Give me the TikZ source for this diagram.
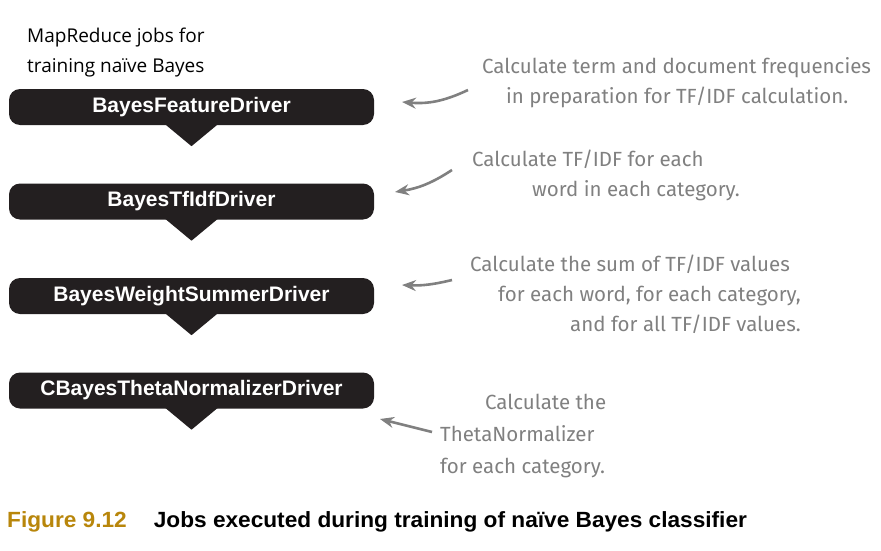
\documentclass[tikz,border=0pt]{standalone}
\usepackage{fontspec}
\usepackage{tikz}
\usetikzlibrary{arrows.meta}
\setmainfont{Liberation Sans}
\newfontfamily\handfont{Fira Sans}
\newfontfamily\headfont{Open Sans}
\newfontfamily\capfont{Liberation Sans}[FakeStretch=1.03]
\definecolor{jobblack}{RGB}{35,31,32}
\definecolor{notegray}{RGB}{128,128,128}
\definecolor{figgold}{RGB}{184,134,11}
\tikzset{
  jobbox/.style={fill=jobblack, rounded corners=11pt, minimum width=365pt,
    minimum height=36pt, inner sep=0pt, text=white,
    font=\fontsize{21}{24}\selectfont\bfseries},
  notetext/.style={text=notegray, inner sep=0pt, align=left, anchor=west,
    font=\handfont\fontsize{20.5}{30}\selectfont},
  notearrow/.style={draw=notegray, line width=2.6pt,
    -{Stealth[length=14pt,width=11pt]}}
}
\begin{document}
\begin{tikzpicture}[x=1pt,y=-1pt]
\useasboundingbox (0,0) rectangle (881,551);
%%%%% jobs
\def\xc{191.5}
\def\tw{26.5}
\def\th{21}
\node[anchor=north west, inner sep=0pt, align=left,
  font=\headfont\fontsize{19}{30}\selectfont] (head) at (27,28)
  {MapReduce jobs for\\training na\"ive Bayes};
\foreach \i/\y/\lbl in {1/107/BayesFeatureDriver,
                        2/201.5/BayesTfIdfDriver,
                        3/296/BayesWeightSummerDriver,
                        4/390.5/CBayesThetaNormalizerDriver}
{
 \node[jobbox] (job\i) at (\xc,\y) {\lbl};
 \fill[jobblack] ([xshift=-\tw pt,yshift=1pt]job\i.south) -- ([xshift=\tw pt,yshift=1pt]job\i.south)
   -- ([yshift=-\th pt]job\i.south) -- cycle;
}
%%%%% notes
\node[notetext] (note1) at (482,83)
  {Calculate term and document frequencies\\\hspace*{24pt}in preparation for TF/IDF calculation.};
\node[notetext] (note2) at (472,175)
  {Calculate TF/IDF for each\\\hspace*{60pt}word in each category.};
\node[notetext] (note3) at (470,294)
  {Calculate the sum of TF/IDF values\\\hspace*{28pt}for each word, for each category,\\\hspace*{100pt}and for all TF/IDF values.};
\node[notetext, font=\handfont\fontsize{20.5}{32}\selectfont] (note4) at (440,436)
  {\hspace*{45pt}Calculate the\\ThetaNormalizer\\for each category.};
\coordinate (tail1) at (468,90);  \coordinate (tip1) at (402,102);
\coordinate (tail2) at (452,170); \coordinate (tip2) at (395,192);
\coordinate (tail3) at (452,280); \coordinate (tip3) at (402,285);
\coordinate (tail4) at (432,432); \coordinate (tip4) at (380,419);
\draw[notearrow] (tail1) to[bend left=15] (tip1);
\draw[notearrow] (tail2) to[bend left=12] (tip2);
\draw[notearrow] (tail3) to[bend left=8] (tip3);
\draw[notearrow] (tail4) -- (tip4);
%%%%% caption
\node[anchor=west, inner sep=0pt, font=\capfont\bfseries\fontsize{22}{26}\selectfont] (cap) at (7,522)
  {\textcolor{figgold}{Figure 9.12}\hspace{27pt}Jobs executed during training of na\"ive Bayes classifier};
\end{tikzpicture}
\end{document}
